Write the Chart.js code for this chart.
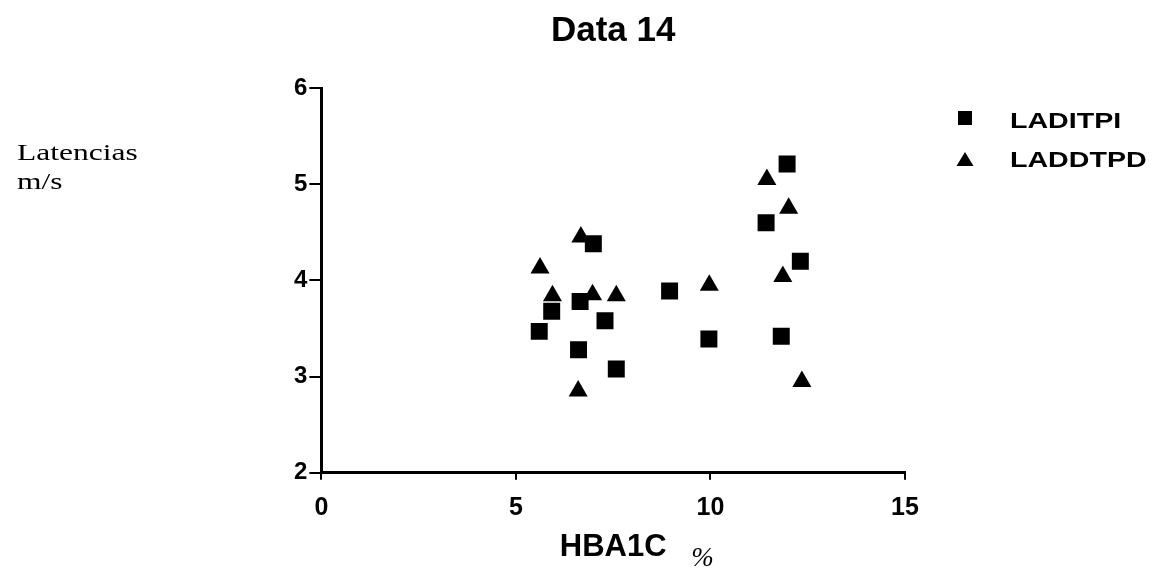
<!DOCTYPE html>
<html>
<head>
<meta charset="utf-8">
<script src="https://cdn.jsdelivr.net/npm/chart.js@4/dist/chart.umd.min.js"></script>
<style>
  html, body { margin: 0; padding: 0; background: #fff; }
  #wrap { width: 1163px; height: 576px; }
</style>
</head>
<body>
<div id="wrap"><canvas id="chart" width="1163" height="576"></canvas></div>
<script>
// values
const seriesNames = ["LADITPI", "LADDTPD"];
const laditpiX = [5.60, 5.92, 6.61, 6.65, 6.99, 7.29, 7.58, 8.95, 9.96, 11.43, 11.82, 11.97, 12.31];
const laditpiY = [3.47, 3.68, 3.28, 3.78, 4.38, 3.58, 3.08, 3.89, 3.39, 4.60, 3.42, 5.21, 4.20];
const laddtpdX = [5.62, 5.94, 6.60, 6.67, 6.97, 7.58, 9.97, 11.45, 11.86, 12.01, 12.35];
const laddtpdY = [4.13, 3.84, 2.85, 4.45, 3.85, 3.84, 3.95, 5.05, 4.04, 4.75, 2.95];
const xTicks = [0, 5, 10, 15];
const yTicks = [2, 3, 4, 5, 6];

const sans = "'Liberation Sans', Arial, sans-serif";
const serif = "'Liberation Serif', 'Times New Roman', serif";

function zip(xs, ys) {
  return xs.map((x, i) => ({ x: x, y: ys[i] }));
}

// stretched text like the scanned original
function wideText(ctx, text, x, y, sx) {
  ctx.save();
  ctx.translate(x, y);
  ctx.scale(sx, 1);
  ctx.fillText(text, 0, 0);
  ctx.restore();
}

const extraText = {
  id: "extraText",
  afterDraw(chart) {
    const ctx = chart.ctx;
    const area = chart.chartArea;
    ctx.save();
    ctx.fillStyle = "#000";
    ctx.textBaseline = "alphabetic";
    ctx.textAlign = "left";

    // y label, horizontal, left of the plot
    ctx.font = "23px " + serif;
    wideText(ctx, "Latencias", 17, 160, 1.37);
    wideText(ctx, "m/s", 17, 189, 1.37);

    // % after the x title
    ctx.font = "italic 27px " + serif;
    ctx.fillText("%", area.left + 370, area.bottom + 93);

    // legend
    const lx = area.right + 60;
    ctx.font = "bold 22px " + sans;
    ctx.fillRect(lx - 7, 111, 14, 14);
    wideText(ctx, seriesNames[0], lx + 45, 128, 1.3);
    ctx.beginPath();
    ctx.moveTo(lx, 152);
    ctx.lineTo(lx + 8.5, 166);
    ctx.lineTo(lx - 8.5, 166);
    ctx.closePath();
    ctx.fill();
    wideText(ctx, seriesNames[1], lx + 45, 167, 1.3);
    ctx.restore();
  }
};

new Chart(document.getElementById("chart").getContext("2d"), {
  type: "scatter",
  data: {
    datasets: [
      {
        label: seriesNames[0],
        data: zip(laditpiX, laditpiY),
        pointStyle: "rect",
        pointRadius: 12,
        backgroundColor: "#000",
        borderWidth: 0,
      },
      {
        label: seriesNames[1],
        data: zip(laddtpdX, laddtpdY),
        pointStyle: "triangle",
        pointRadius: 11,
        backgroundColor: "#000",
        borderWidth: 0,
      },
    ],
  },
  options: {
    responsive: false,
    animation: false,
    devicePixelRatio: 1,
    layout: {
      padding: { left: 292, right: 258, top: 0, bottom: 10 },
    },
    scales: {
      x: {
        type: "linear",
        min: 0,
        max: 15,
        afterBuildTicks: (axis) => {
          axis.ticks = xTicks.map((v) => ({ value: v }));
        },
        ticks: {
          color: "#000",
          padding: 13,
          font: { family: sans, size: 25, weight: "bold" },
        },
        grid: {
          display: true,
          drawOnChartArea: false,
          drawTicks: true,
          tickLength: 7,
          color: "#000",
          lineWidth: 2,
        },
        border: { display: true, color: "#000", width: 3 },
        title: {
          display: true,
          text: "HBA1C",
          color: "#000",
          padding: { top: -7, bottom: 0 },
          font: { family: sans, size: 31, weight: "bold" },
        },
      },
      y: {
        type: "linear",
        min: 2,
        max: 6,
        afterBuildTicks: (axis) => {
          axis.ticks = yTicks.map((v) => ({ value: v }));
        },
        ticks: {
          color: "#000",
          padding: 2,
          font: { family: sans, size: 24, weight: "bold" },
        },
        grid: {
          display: true,
          drawOnChartArea: false,
          drawTicks: true,
          tickLength: 12,
          color: "#000",
          lineWidth: 2,
        },
        border: { display: true, color: "#000", width: 3 },
      },
    },
    plugins: {
      legend: { display: false },
      tooltip: { enabled: false },
      title: {
        display: true,
        text: "Data 14",
        color: "#000",
        fullSize: false,
        padding: { top: 10, bottom: 36 },
        font: { family: sans, size: 35, weight: "bold" },
      },
    },
  },
  plugins: [extraText],
});
</script>
</body>
</html>
